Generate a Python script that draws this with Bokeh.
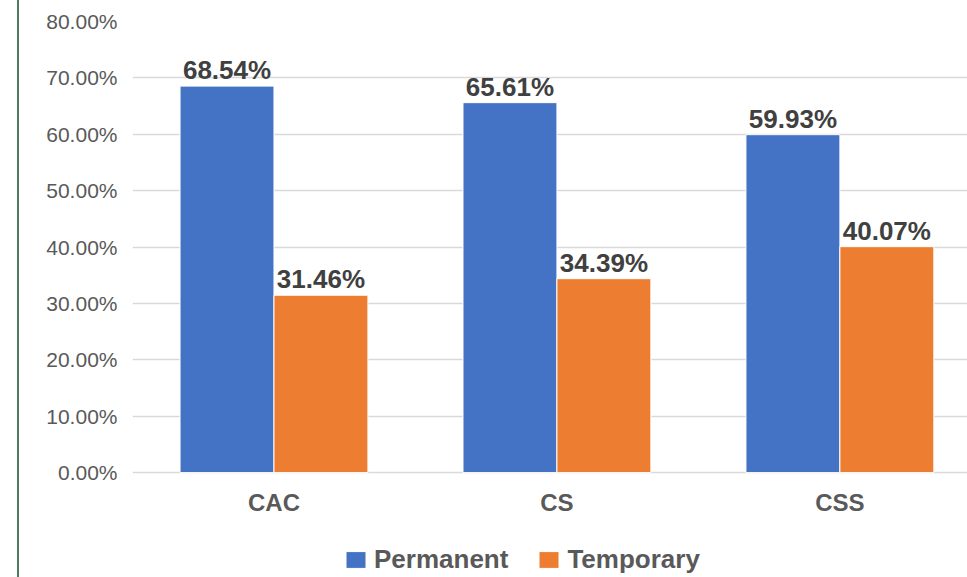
from bokeh.plotting import figure
from bokeh.models import (ColumnDataSource, Range1d, FixedTicker, NumeralTickFormatter,
                          Legend, LegendItem, Div, Spacer)
from bokeh.layouts import row
from bokeh.transform import dodge
from bokeh.core.properties import value
from bokeh.embed import file_html
from bokeh.resources import INLINE

# ---- data ----
categories = ["CAC", "CS", "CSS"]
permanent = [0.6854, 0.6561, 0.5993]
temporary = [0.3146, 0.3439, 0.4007]
series_names = ["Permanent", "Temporary"]
y_ticks = [0.0, 0.1, 0.2, 0.3, 0.4, 0.5, 0.6, 0.7, 0.8]

BLUE = "#4472C4"
ORANGE = "#ED7D31"
FONT = "Liberation Sans"

pos = [i + 0.5 for i in range(len(categories))]
src = ColumnDataSource(dict(
    pos=pos,
    cat=categories,
    perm=permanent,
    temp=temporary,
    perm_lbl=[f"{v * 100:.2f}%" for v in permanent],
    temp_lbl=[f"{v * 100:.2f}%" for v in temporary],
))

W = 0.332
PX = 564.5          # pixels per 100 % on the value axis
Y_MIN = -105 / PX   # frame continues below zero to hold category labels and legend

p = figure(width=943, height=577,
           x_range=Range1d(0, 2.951), y_range=Range1d(Y_MIN, 0.8),
           x_axis_location=None,
           output_backend="svg", toolbar_location=None,
           min_border_left=108, min_border_right=0,
           min_border_top=21, min_border_bottom=0)
p.outline_line_color = None
p.background_fill_color = "white"
p.border_fill_color = "white"

p.xgrid.grid_line_color = None
p.ygrid.grid_line_color = "#d9d9d9"
p.ygrid.grid_line_width = 1.5
p.ygrid.ticker = FixedTicker(ticks=y_ticks)

# y axis
p.yaxis.ticker = FixedTicker(ticks=y_ticks)
p.yaxis.formatter = NumeralTickFormatter(format="0.00%")
p.yaxis.axis_line_color = None
p.yaxis.major_tick_line_color = None
p.yaxis.minor_tick_line_color = None
p.yaxis.major_tick_out = 0
p.yaxis.major_tick_in = 0
p.yaxis.minor_tick_out = 0
p.yaxis.major_label_standoff = 15
p.yaxis.major_label_text_font = FONT
p.yaxis.major_label_text_font_size = "21px"
p.yaxis.major_label_text_color = "#595959"

r1 = p.vbar(x=dodge("pos", -W / 2, range=p.x_range), top="perm", width=W, source=src,
            fill_color=BLUE, line_color="white", line_width=1)
r2 = p.vbar(x=dodge("pos", W / 2, range=p.x_range), top="temp", width=W, source=src,
            fill_color=ORANGE, line_color="white", line_width=1)

for off, col, lbl in [(-W / 2, "perm", "perm_lbl"), (W / 2, "temp", "temp_lbl")]:
    p.text(x=dodge("pos", off, range=p.x_range), y=col, text=lbl, source=src,
           text_align="center", text_baseline="alphabetic", y_offset=-16,
           text_font=value(FONT), text_font_style="bold", text_font_size="26px",
           text_color="#404040")

# category labels under the bars
p.text(x="pos", y=0, text="cat", source=src, y_offset=30,
       text_align="center", text_baseline="middle",
       text_font=value(FONT), text_font_style="bold", text_font_size="24px",
       text_color="#595959")

legend = Legend(items=[LegendItem(label=series_names[0], renderers=[r1]),
                       LegendItem(label=series_names[1], renderers=[r2])],
                orientation="horizontal", location=(211, 2),
                glyph_width=25, glyph_height=21, label_standoff=6, spacing=28,
                padding=0, margin=0, border_line_color=None, background_fill_alpha=0,
                label_text_font=FONT, label_text_font_style="bold",
                label_text_font_size="26px", label_text_color="#595959")
p.add_layout(legend)

green = Div(text="", width=2, height=577, margin=(0, 5, 0, 5),
            styles={"background-color": "#4f7a62"})
layout = row(Spacer(width=12, height=577), green, p)

open("out.html", "w").write(file_html(layout, INLINE))
